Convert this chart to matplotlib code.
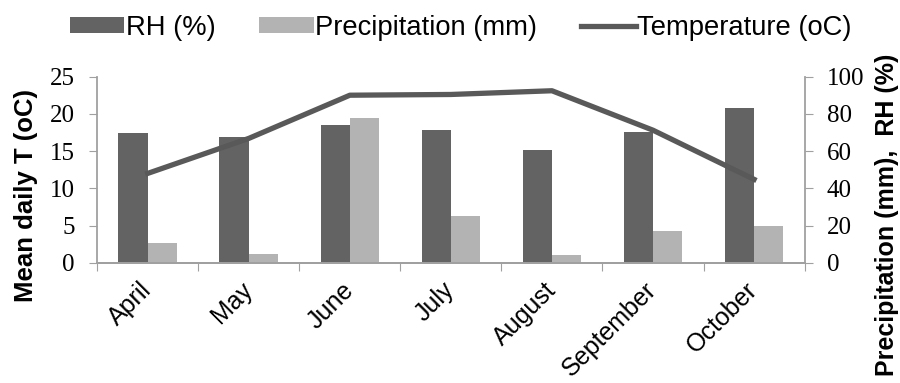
import matplotlib.pyplot as plt
import numpy as np

# dados
meses = ["April", "May", "June", "July", "August", "September", "October"]
umidade = [69.5, 67.7, 74, 71.5, 60.6, 70.4, 83]          # RH (%)
precipitacao = [10.8, 4.7, 77.8, 25.3, 4.1, 17.2, 20]     # mm
temperatura = [12.0, 16.7, 22.5, 22.6, 23.1, 17.8, 11.2]  # oC

cor_rh = "#636363"
cor_prec = "#b3b3b3"
cor_temp = "#595959"
cor_eixo = "#a0a0a0"

fig = plt.figure(figsize=(9, 3.83), dpi=100)
ax = fig.add_axes([0.108, 0.314, 0.786, 0.486])
ax2 = ax.twinx()

x = np.arange(len(meses))
w = 0.29

# barras no eixo da direita
ax2.bar(x - w / 2, umidade, w, color=cor_rh, label="RH (%)")
ax2.bar(x + w / 2, precipitacao, w, color=cor_prec, label="Precipitation (mm)")

# linha de temperatura no eixo da esquerda
ax.plot(x, temperatura, color=cor_temp, lw=3.8, label="Temperature (oC)")
ax.set_zorder(ax2.get_zorder() + 1)
ax.patch.set_visible(False)

ax.set_xlim(-0.5, len(meses) - 0.5)
ax.set_ylim(0, 25)
ax2.set_ylim(0, 100)
ax.set_yticks(range(0, 26, 5))
ax2.set_yticks(range(0, 101, 20))

# ticks nas divisoes, rotulos no centro
ax.set_xticks(np.arange(-0.5, len(meses), 1))
ax.set_xticklabels([])
ax.set_xticks(x, minor=True)
ax.set_xticklabels(meses, minor=True, rotation=45, ha="right", va="center", rotation_mode="anchor",
                   family="Liberation Sans", fontsize=18)
ax.tick_params(axis="x", which="minor", length=0, pad=17)
ax.tick_params(axis="x", which="major", length=6, color=cor_eixo)

for a in (ax, ax2):
    a.spines["top"].set_visible(False)
    for s in ("left", "right", "bottom"):
        a.spines[s].set_color(cor_eixo)
        a.spines[s].set_linewidth(1.3)
    a.tick_params(axis="y", length=6, color=cor_eixo, labelsize=18, pad=10)
    for t in a.get_yticklabels():
        t.set_family("Liberation Serif")

ax2.spines["left"].set_visible(False)
ax.spines["right"].set_visible(False)

ax.set_ylabel("Mean daily T (oC)", family="Liberation Sans", fontweight="bold", fontsize=18.5)
ax.yaxis.set_label_coords(-0.083, 0.36)
ax2.set_ylabel("Precipitation (mm),  RH (%)", family="Liberation Sans", fontweight="bold", fontsize=18)
ax2.yaxis.set_label_coords(1.1, 0.26)

h1, l1 = ax2.get_legend_handles_labels()
h2, l2 = ax.get_legend_handles_labels()
fig.legend(h1 + h2, l1 + l2, loc="center", bbox_to_anchor=(0.512, 0.928), ncol=3, frameon=False,
           prop={"family": "Liberation Sans", "size": 19.7}, handlelength=2.0, handleheight=0.5,
           handletextpad=0.05, columnspacing=1.6, borderpad=0)

fig.savefig("out.png", dpi=100)
